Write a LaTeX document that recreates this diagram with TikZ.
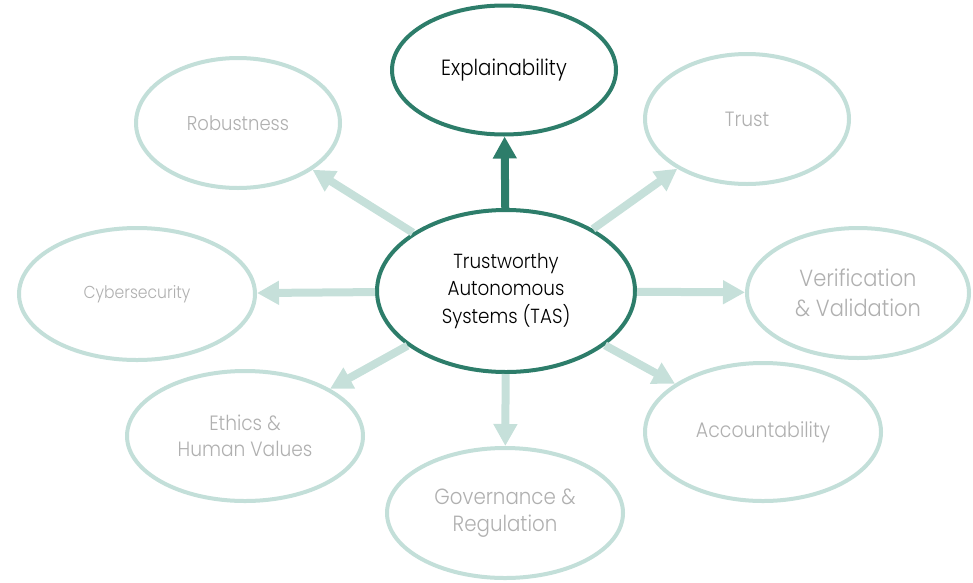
\documentclass[tikz,border=0pt]{standalone}
\usepackage{fontspec}
\setmainfont{Poppins}[UprightFont=* Light, FakeStretch=0.9]
\usetikzlibrary{shapes.geometric,arrows.meta}
\definecolor{tealdark}{HTML}{2D7D6A}
\definecolor{teallight}{HTML}{C3DFD9}
\definecolor{arrowlight}{HTML}{C6E0DA}
\definecolor{textgray}{HTML}{B0B0B0}
\tikzset{
  bubble/.style={ellipse, inner sep=0pt, align=center, line width=3pt, fill=white},
  mainbubble/.style={bubble, draw=tealdark, text=black,
    font=\fontsize{15.3}{20.6}\selectfont},
  sidebubble/.style={bubble, draw=teallight, text=textgray,
    font=\fontsize{15.5}{19.5}\selectfont},
  spoke/.style={line width=6pt, draw=arrowlight,
    -{Triangle[width=17pt,length=16.5pt]}},
  mainspoke/.style={spoke, draw=tealdark},
}
\begin{document}
\begin{tikzpicture}[x=0.75pt,y=-0.75pt]
  \useasboundingbox (0,0) rectangle (973,582);

  % outer topics
  \node[mainbubble, font=\fontsize{16.5}{20}\selectfont, minimum width=168pt, minimum height=96.75pt] (expl) at (504,70) {Explainability};
  \node[sidebubble, font=\fontsize{15}{19}\selectfont, minimum width=153pt, minimum height=97.5pt] (rob) at (238,123) {Robustness};
  \node[sidebubble, minimum width=153pt, minimum height=97.5pt] (trust) at (747,119) {Trust};
  \node[sidebubble, font=\fontsize{13}{16}\selectfont, minimum width=177pt, minimum height=99pt] (cyber) at (137,294) {Cybersecurity};
  \node[sidebubble, font=\fontsize{17.5}{22.5}\selectfont, minimum width=166.5pt, minimum height=97.5pt] (vv) at (858,293) {Verification\\\& Validation};
  \node[sidebubble, minimum width=177pt, minimum height=97.5pt] (eth) at (245,436) {Ethics \&\\Human Values};
  \node[sidebubble, font=\fontsize{16.5}{20.3}\selectfont, minimum width=177pt, minimum height=97.5pt] (gov) at (505,513) {Governance \&\\Regulation};
  \node[sidebubble, font=\fontsize{15.8}{19}\selectfont, minimum width=177pt, minimum height=103.5pt] (acc) at (763,432) {Accountability};

  % central concept
  \node[mainbubble, minimum width=193.5pt, minimum height=121.5pt] (tas) at (506,291) {Trustworthy\\Autonomous\\Systems (TAS)};

  % spokes from the centre
  \draw[spoke] (tas) -- (rob);
  \draw[spoke] (tas) -- (trust);
  \draw[spoke] (tas) -- (cyber);
  \draw[spoke] (tas) -- (vv);
  \draw[spoke] (tas) -- (eth);
  \draw[spoke] (tas) -- (gov);
  \draw[spoke] (tas) -- (acc);
  \draw[mainspoke] (tas) -- (expl);
\end{tikzpicture}
\end{document}
